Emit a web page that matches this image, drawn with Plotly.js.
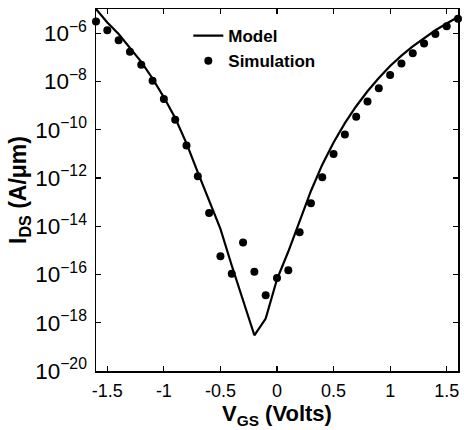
<!DOCTYPE html>
<html><head><meta charset="utf-8">
<script src="https://cdn.plot.ly/plotly-3.0.1.min.js"></script>
<style>html,body{margin:0;padding:0;background:#fff}#chart{width:464px;height:430px}</style>
</head><body><div id="chart"></div>
<script>
// Model (line) : V_GS in volts, log10(I_DS)
const modelV = [-1.6,-1.5,-1.4,-1.3,-1.2,-1.1,-1.0,-0.9,-0.8,-0.7,-0.6,-0.5,-0.4,-0.3,-0.2,-0.1,0.0,0.1,0.2,0.3,0.4,0.5,0.6,0.7,0.8,0.9,1.0,1.1,1.2,1.3,1.4,1.5,1.6];
const modelLogI = [-5.0,-5.56,-6.04,-6.6,-7.19,-7.88,-8.66,-9.52,-10.57,-11.77,-12.96,-14.11,-15.63,-17.08,-18.52,-17.83,-16.2,-15.05,-13.77,-12.54,-11.45,-10.53,-9.73,-9.03,-8.41,-7.86,-7.36,-6.93,-6.55,-6.2,-5.88,-5.6,-5.33];
// Simulation (dots)
const simV = [-1.6,-1.5,-1.4,-1.3,-1.2,-1.1,-1.0,-0.9,-0.8,-0.7,-0.6,-0.5,-0.4,-0.3,-0.2,-0.1,0.0,0.1,0.2,0.3,0.4,0.5,0.6,0.7,0.8,0.9,1.0,1.1,1.2,1.3,1.4,1.5,1.6];
const simLogI = [-5.52,-5.88,-6.29,-6.77,-7.31,-7.97,-8.73,-9.59,-10.66,-11.93,-13.45,-15.24,-15.97,-14.68,-15.89,-16.86,-16.15,-15.83,-14.25,-13.05,-11.97,-11.01,-10.2,-9.46,-8.83,-8.28,-7.73,-7.26,-6.83,-6.43,-6.04,-5.71,-5.4];
const xTickVals = [-1.5,-1,-0.5,0,0.5,1,1.5];
const xTickText = ['-1.5','-1','-0.5','0','0.5','1','1.5'];

const toI = a => a.map(v => Math.pow(10, v));
const font = 'Arial, "Liberation Sans", sans-serif';

const data = [
  {x: modelV, y: toI(modelLogI), mode: 'lines', name: 'Model',
   line: {color: '#000', width: 2.2}},
  {x: simV, y: toI(simLogI), mode: 'markers', name: 'Simulation',
   marker: {color: '#000', size: 8}, cliponaxis: false}
];

const layout = {
  width: 464, height: 430,
  margin: {l: 96, r: 6, t: 9, b: 59},
  paper_bgcolor: '#fff', plot_bgcolor: '#fff',
  font: {family: font, color: '#000', size: 18},
  showlegend: true,
  legend: {x: 0.255, y: 0.975, xanchor: 'left', yanchor: 'top', bgcolor: 'rgba(0,0,0,0)',
           font: {family: font, size: 17, color: '#000', weight: 'bold'},
           itemwidth: 30, tracegroupgap: 0},
  xaxis: {
    range: [-1.6, 1.6], tickvals: xTickVals, ticktext: xTickText,
    ticks: 'inside', ticklen: 5, tickwidth: 1.2, tickcolor: '#000',
    showline: true, linecolor: '#000', linewidth: 1.5, mirror: 'ticks',
    showgrid: false, zeroline: false, ticklabelstandoff: 3,
    tickfont: {family: font, size: 18},
    title: {text: '<b>V<sub>GS</sub> (Volts)</b>', font: {family: font, size: 22}, standoff: 4}
  },
  yaxis: {
    type: 'log', range: [-20, -5], dtick: 2, tick0: 0,
    exponentformat: 'power',
    ticks: 'inside', ticklen: 5, tickwidth: 1.2, tickcolor: '#000',
    showline: true, linecolor: '#000', linewidth: 1.5, mirror: 'ticks',
    showgrid: false, zeroline: false, ticklabelstandoff: 4,
    tickfont: {family: font, size: 18},
    title: {text: '<b>I<sub>DS</sub> (A/μm)</b>', font: {family: font, size: 23}, standoff: 2}
  }
};
Plotly.newPlot('chart', data, layout, {displayModeBar: false, staticPlot: true});
</script></body></html>
